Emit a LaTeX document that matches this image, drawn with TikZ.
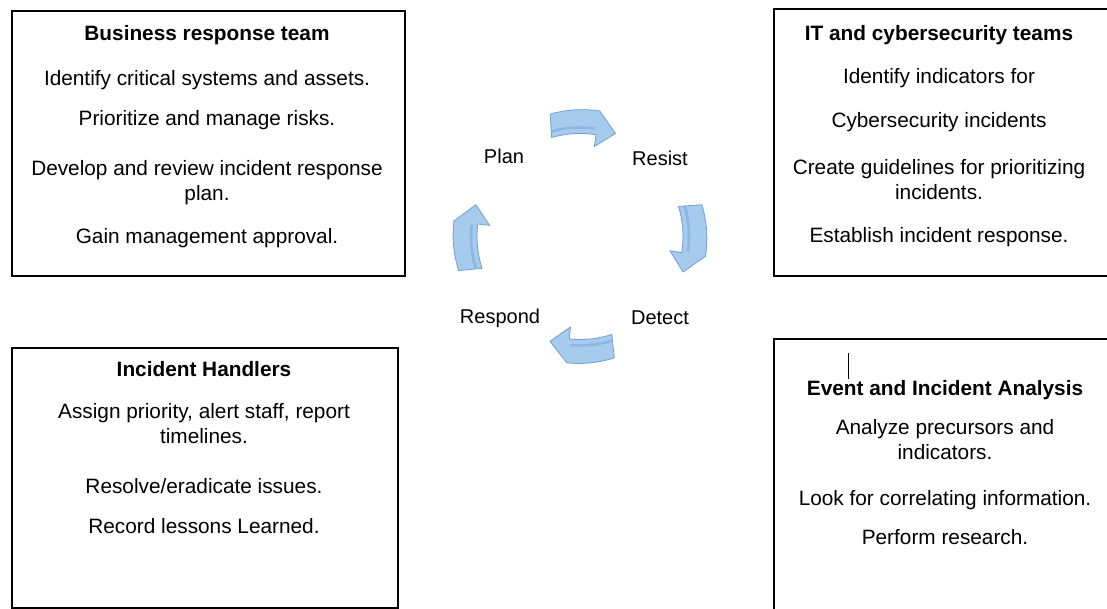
\documentclass[tikz,border=0pt]{standalone}
\usepackage{fontspec}
\setmainfont{Liberation Sans}
\usetikzlibrary{positioning}
\definecolor{cyclight}{RGB}{166,203,237}
\definecolor{cycdark}{RGB}{110,160,214}
\tikzset{
  panel/.style={draw, line width=1.8pt, anchor=north west, inner sep=0pt},
  paneltext/.style={anchor=north, align=center, inner sep=0pt, font=\fontsize{20.8}{25}\selectfont},
  phase/.style={inner sep=0pt, font=\fontsize{20}{24}\selectfont},
  cycarrow/.style={fill=cyclight, draw=cycdark, line width=0.8pt, line join=round}
}

\begin{document}
\begin{tikzpicture}[x=1pt,y=1pt]
\useasboundingbox (0,0) rectangle (1107,-609);

\node[panel, minimum width=393pt, minimum height=265pt] (biz) at (11,-10) {};
\node[panel, minimum width=345pt, minimum height=267pt] (itsec) at (773,-8) {};
\node[panel, minimum width=386pt, minimum height=260pt] (handlers) at (11,-347) {};
\node[panel, minimum width=345pt, minimum height=290pt] (analysis) at (773,-338) {};

\node[paneltext] (biztext) at (207,-25) {\textbf{Business response team}\\[20pt]
  Identify critical systems and assets.\\[15pt]
  Prioritize and manage risks.\\[25pt]
  Develop and review incident response\\plan.\\[18pt]
  Gain management approval.};
\node[paneltext] (itsectext) at (939,-25) {\textbf{IT and cybersecurity teams}\\[18pt]
  Identify indicators for\\[19pt]
  Cybersecurity incidents\\[22pt]
  Create guidelines for prioritizing\\incidents.\\[18pt]
  Establish incident response.};
\node[paneltext] (handlerstext) at (204,-361) {\textbf{Incident Handlers}\\[17pt]
  Assign priority, alert staff, report\\timelines.\\[25pt]
  Resolve/eradicate issues.\\[15pt]
  Record lessons Learned.};
\node[paneltext] (analysistext) at (945,-380) {\textbf{Event and Incident Analysis}\\[14pt]
  Analyze precursors and\\indicators.\\[21pt]
  Look for correlating information.\\[14pt]
  Perform research.};
\draw[line width=0.9pt] (848,-353) -- (848,-379);

\node[phase] (plan) at (504,-156) {Plan};
\node[phase] (resist) at (660,-158) {Resist};
\node[phase] (detect) at (660,-318) {Detect};
\node[phase] (respond) at (500,-318) {Respond};

\foreach \a/\b in {106/71,17/-19,-72/-106,198/163}{
  \filldraw[cycarrow, shift={(580,-236.5)}] (\a:103pt) arc[start angle=\a, end angle=\b+10, radius=103pt]
    -- (\b+10:91pt) -- (\b:109pt) -- (\b+10:127pt)
    arc[start angle=\b+10, end angle=\a, radius=115pt] -- cycle;
  \draw[cycdark, line width=2.5pt, opacity=0.45, shift={(580,-236.5)}] (\a-1:109pt) arc[start angle=\a-1, end angle=\b+11, radius=109pt];
}
\end{tikzpicture}
\end{document}
